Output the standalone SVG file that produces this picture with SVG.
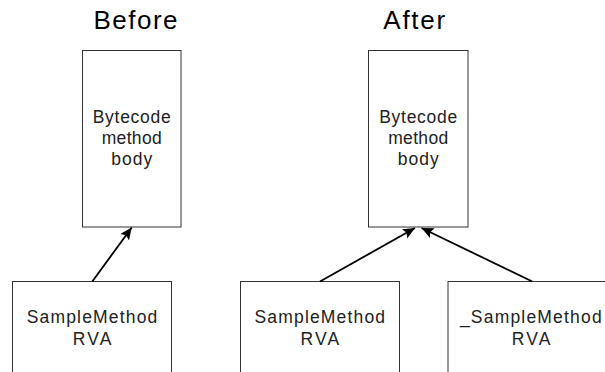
<svg xmlns="http://www.w3.org/2000/svg" width="605" height="372" viewBox="0 0 605 372">
<style>
.box{fill:#fff;stroke:#333;stroke-width:1}
.lbl{font-family:"Liberation Sans",Arial,sans-serif;font-size:17.5px;fill:#222;text-anchor:middle}
.ttl{font-family:"Liberation Sans",Arial,sans-serif;font-size:26px;fill:#000;text-anchor:middle}
.conn{stroke:#000;stroke-width:1.8;fill:none;marker-end:url(#ah)}
</style>
<defs>
<marker id="ah" markerUnits="userSpaceOnUse" markerWidth="12" markerHeight="12" viewBox="0 0 10 10" refX="10" refY="5" orient="auto">
<path d="M0,0.5 L10,5 L0,9.5 L2,5 Z" fill="#000"/>
</marker>
</defs>
<rect width="605" height="372" fill="#fff"/>
<text class="ttl" x="135.5" y="29.3" textLength="84" lengthAdjust="spacing">Before</text>
<text class="ttl" x="414.2" y="29.3" textLength="61.7" lengthAdjust="spacing">After</text>
<g id="before-body">
<rect class="box" x="82.5" y="50.5" width="98.5" height="176.5"/>
<text class="lbl" x="131.7" y="123.3" textLength="78" lengthAdjust="spacing">Bytecode</text>
<text class="lbl" x="131.7" y="144.3" textLength="60" lengthAdjust="spacing">method</text>
<text class="lbl" x="131.7" y="165.3" textLength="41" lengthAdjust="spacing">body</text>
</g>
<g id="before-rva">
<rect class="box" x="12.5" y="281.5" width="159" height="100"/>
<text class="lbl" x="92" y="322.7" textLength="130.6" lengthAdjust="spacing">SampleMethod</text>
<text class="lbl" x="92" y="345" textLength="38.7" lengthAdjust="spacing">RVA</text>
</g>
<g id="after-body">
<rect class="box" x="368.5" y="50.5" width="99.5" height="176.5"/>
<text class="lbl" x="418.2" y="123.3" textLength="78" lengthAdjust="spacing">Bytecode</text>
<text class="lbl" x="418.2" y="144.3" textLength="60" lengthAdjust="spacing">method</text>
<text class="lbl" x="418.2" y="165.3" textLength="41" lengthAdjust="spacing">body</text>
</g>
<g id="after-rva">
<rect class="box" x="240.5" y="281.5" width="159" height="100"/>
<text class="lbl" x="319.8" y="322.7" textLength="130.6" lengthAdjust="spacing">SampleMethod</text>
<text class="lbl" x="319.8" y="345" textLength="38.7" lengthAdjust="spacing">RVA</text>
</g>
<g id="after-underscore-rva">
<rect class="box" x="448" y="281.5" width="166" height="100"/>
<text class="lbl" x="530.8" y="322.7" textLength="141.7" lengthAdjust="spacing">_SampleMethod</text>
<text class="lbl" x="531" y="345" textLength="38.7" lengthAdjust="spacing">RVA</text>
</g>
<g id="connectors">
<line class="conn" x1="92.3" y1="281.5" x2="131.7" y2="227.5"/>
<line class="conn" x1="320" y1="281.5" x2="415" y2="228"/>
<line class="conn" x1="532.3" y1="281.5" x2="421.5" y2="228"/>
</g>
</svg>
